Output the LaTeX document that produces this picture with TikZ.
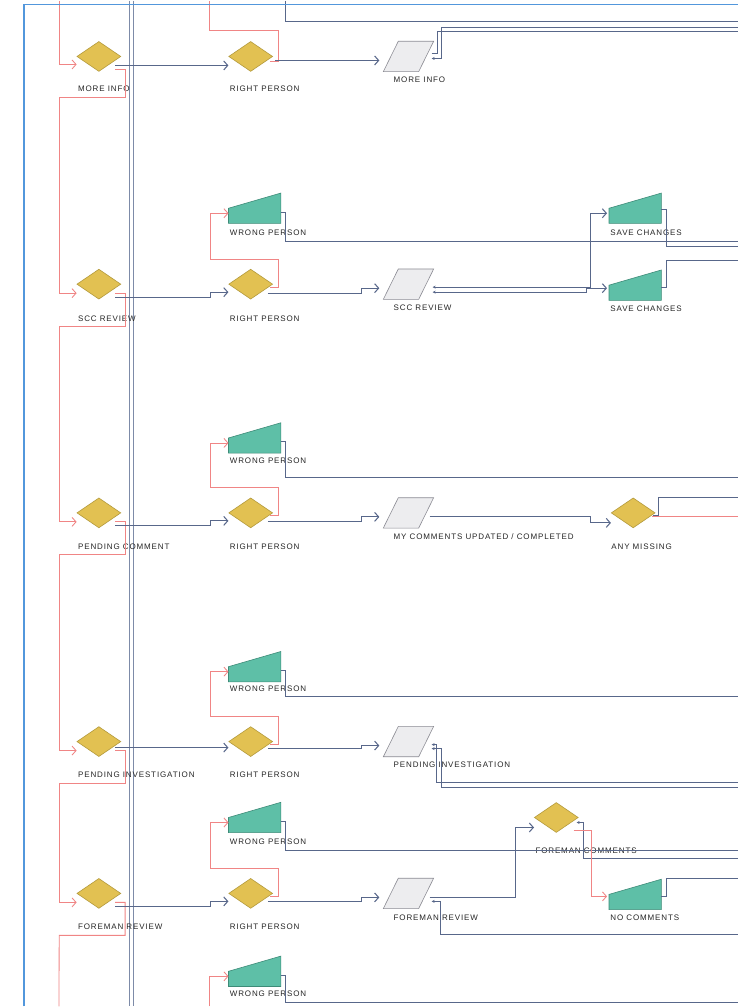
\documentclass[tikz,border=0pt]{standalone}
\usepackage{fontspec}
\setmainfont{Liberation Sans}
\newfontfamily\tagfont[LetterSpace=11]{Liberation Sans}
\usetikzlibrary{arrows.meta,shapes.geometric,positioning,calc}
\definecolor{flowline}{HTML}{58678A}
\definecolor{noline}{HTML}{F08585}
\definecolor{gatefill}{HTML}{E2C152}
\definecolor{gatedraw}{HTML}{B49A3C}
\definecolor{inputfill}{HTML}{5EBFA7}
\definecolor{inputdraw}{HTML}{3E8B78}
\definecolor{datafill}{HTML}{EDEDEF}
\definecolor{datadraw}{HTML}{8C8C94}
\definecolor{pageblue}{HTML}{5297DC}
\definecolor{lanegray}{HTML}{7D8BA8}

\begin{document}
\begin{tikzpicture}[
    x=1pt,y=-1pt,
    gate/.style   = {diamond, draw=gatedraw, fill=gatefill, line width=0.6pt,
                     minimum width=44pt, minimum height=30pt, inner sep=0pt},
    slot/.style   = {rectangle, inner sep=0pt, minimum width=52pt, minimum height=30pt},
    datab/.style  = {rectangle, inner sep=0pt, minimum width=50pt, minimum height=30pt},
    lbl/.style    = {anchor=base west, inner sep=0pt, text=black!85,
                     font=\tagfont\fontsize{8pt}{9pt}\selectfont},
    flow/.style   = {flowline, line width=1.05pt},
    nope/.style   = {noline, line width=0.85pt},
    into/.style   = {-{Straight Barb[length=4pt,width=9pt]}},
    retn/.style   = {{Stealth[length=3pt,width=3pt]}-},
    retninto/.style = {{Stealth[length=3pt,width=3pt]}-{Straight Barb[length=4pt,width=9pt]}},
  ]

  \fill[white] (0,0) rectangle (739,1007);
  \coordinate (rim)     at (739,0);
  \coordinate (redTop)  at (59,0);
  \coordinate (redBot)  at (59,1007);
  \coordinate (redUp)   at (210,0);
  \coordinate (redDown) at (210,1007);
  \coordinate (flowTop) at (286,0);

  % swim lane divider
  \foreach \x in {129.5,133.5}
    \draw[lanegray, line width=1pt] (\x,0) -- (\x,1007);

  % status checks, left column
  \node[gate] (qInfo) at (99,56)  {};
  \node[gate] (qScc)  at (99,284) {};
  \node[gate] (qPend) at (99,513) {};
  \node[gate] (qInv)  at (99,742) {};
  \node[gate] (qFore) at (99,894) {};

  % right person checks
  \node[gate] (rp1) at (251,56)  {};
  \node[gate] (rp2) at (251,284) {};
  \node[gate] (rp3) at (251,513) {};
  \node[gate] (rp4) at (251,742) {};
  \node[gate] (rp5) at (251,894) {};

  % manual inputs
  \node[slot] (wp2)   at (255,208) {};
  \node[slot] (wp3)   at (255,438) {};
  \node[slot] (wp4)   at (255,667) {};
  \node[slot] (wp5)   at (255,818) {};
  \node[slot] (wp6)   at (255,972) {};
  \node[slot] (save1) at (636,208) {};
  \node[slot] (save2) at (636,285) {};
  \node[slot] (noCom) at (636,895) {};

  % data steps
  \node[datab] (dInfo) at (409,56)  {};
  \node[datab] (dScc)  at (409,284) {};
  \node[datab] (dComm) at (409,513) {};
  \node[datab] (dInv)  at (409,742) {};
  \node[datab] (dFore) at (409,894) {};

  \node[gate] (qMiss) at (634,513) {};
  \node[gate] (qFc)   at (557,818) {};

  \foreach \n in {wp2,wp3,wp4,wp5,wp6,save1,save2,noCom}
    \filldraw[draw=inputdraw, fill=inputfill, line width=0.6pt]
      (\n.south west) -- (\n.west) -- (\n.north east) -- (\n.south east) -- cycle;
  \foreach \n in {dInfo,dScc,dComm,dInv,dFore}
    \filldraw[draw=datadraw, fill=datafill, line width=0.6pt]
      (\n.south west) -- ([xshift=15pt]\n.north west) -- (\n.north east)
      -- ([xshift=-15pt]\n.south east) -- cycle;

  % labels
  \node[lbl] (t-qInfo) at (78,91)  {MORE INFO};
  \node[lbl] (t-qScc)  at (78,321) {SCC REVIEW};
  \node[lbl] (t-qPend) at (78,550) {PENDING COMMENT};
  \node[lbl] (t-qInv)  at (78,778) {PENDING INVESTIGATION};
  \node[lbl] (t-qFore) at (78,930) {FOREMAN REVIEW};
  \foreach \i/\y in {1/91,2/321,3/550,4/778,5/930}
    \node[lbl] (t-rp\i) at (230,\y) {RIGHT PERSON};
  \foreach \i/\y in {2/235,3/464,4/692,5/845,6/997}
    \node[lbl] (t-wp\i) at (230,\y) {WRONG PERSON};
  \node[lbl] (t-dInfo) at (394,82)  {MORE INFO};
  \node[lbl] (t-dScc)  at (394,310) {SCC REVIEW};
  \node[lbl] (t-dComm) at (394,540) {MY COMMENTS UPDATED / COMPLETED};
  \node[lbl] (t-dInv)  at (394,768) {PENDING INVESTIGATION};
  \node[lbl] (t-dFore) at (394,921) {FOREMAN REVIEW};
  \node[lbl] (t-save1) at (611,235) {SAVE CHANGES};
  \node[lbl] (t-save2) at (611,311) {SAVE CHANGES};
  \node[lbl] (t-qMiss) at (612,550) {ANY MISSING};
  \node[lbl] (t-qFc)   at (536,854) {FOREMAN COMMENTS};
  \node[lbl] (t-noCom) at (611,921) {NO COMMENTS};

  % "no" chain down the left column
  \draw[nope,into] (redTop) |- ([yshift=-8pt]qInfo.west);
  \draw[nope,into] ([xshift=-6pt,yshift=-13pt]qInfo.east) -- ++(10,0) -- ++(0,28)
    -- ++(-66,0) |- ([yshift=-9pt]qScc.west);
  \foreach \a/\b in {qScc/qPend,qPend/qInv,qInv/qFore}
    \draw[nope,into] ([xshift=-6pt,yshift=-9pt]\a.east) -- ++(10,0) -- ++(0,33)
      -- ++(-66,0) |- ([yshift=-9pt]\b.west);
  \draw[nope] ([xshift=-6pt,yshift=-9pt]qFore.east) -- ++(10,0) -- ++(0,33)
    -- ++(-66,0) -- (redBot);

  % "yes" into right person
  \draw[flow,into] ([xshift=-6pt,yshift=-9pt]qInfo.east) -- ([yshift=-9pt]rp1.west);
  \draw[flow,into] ([xshift=-6pt,yshift=-6pt]qInv.east) -- ([yshift=-6pt]rp4.west);
  \foreach \a/\b in {qScc/rp2,qPend/rp3,qFore/rp5}
    \draw[flow,into] ([xshift=-6pt,yshift=-13pt]\a.east) -- ++(95,0)
      |- ([yshift=-8pt]\b.west);

  % right person -> wrong person loops
  \draw[nope] ([xshift=-3pt,yshift=-5pt]rp1.east) -- ++(8,0) -- ++(0,-31) -| (redUp);
  \foreach \i in {2,3,4,5}
    \draw[nope,into] ([xshift=-3pt,yshift=-3pt]rp\i.east) -- ++(8,0) -- ++(0,-28)
      -- ++(-68,0) |- ([yshift=-5pt]wp\i.west);
  \draw[nope,into] (redDown) |- ([yshift=-5pt]wp6.west);

  % wrong person exits
  \draw[flow] (flowTop) |- (rim |- 0,21);
  \foreach \i/\y in {2/241,3/478,4/697,5/851,6/1003}
    \draw[flow] ([yshift=-4pt]wp\i.east) -- ++(5,0) |- (rim |- 0,\y);

  % right person -> data steps
  \draw[flow,into] ([xshift=2pt,yshift=-4pt]rp1.east) -- ([xshift=-4pt,yshift=-4pt]dInfo.west);
  \foreach \i/\d/\s in {2/dScc/9,3/dComm/9,4/dInv/7,5/dFore/8}
    \draw[flow,into] ([xshift=-5pt,yshift=-\s pt]rp\i.east) -- ++(94,0)
      |- ([xshift=-4pt,yshift=-4pt]\d.west);

  % data steps onwards
  \draw[flow] ([xshift=-2pt,yshift=3pt]dInfo.east) -- ++(6,0) |- (rim |- 0,31);
  \draw[flow,retn] ([xshift=-2pt,yshift=-2pt]dInfo.east) -- ++(10,0) |- (rim |- 0,27);

  \draw[flow,retninto] ([xshift=-1pt,yshift=-3pt]dScc.east) -- ++(158,0)
    |- ([xshift=-2pt,yshift=-5pt]save1.west);
  \draw[flow,retninto] ([xshift=-1pt,yshift=-8pt]dScc.east) -- ++(154,0)
    |- ([xshift=-2pt,yshift=-3pt]save2.west);
  \draw[flow] ([yshift=-1pt]save1.east) -- ++(5,0) |- (rim |- 0,246);
  \draw[flow] ([yshift=-2pt]save2.east) -- ++(5,0) |- (rim |- 0,260);

  \draw[flow,into] ([xshift=-4pt,yshift=-4pt]dComm.east) -- ++(161,0)
    |- ([yshift=-10pt]qMiss.west);
  \draw[nope] ([xshift=-3pt,yshift=-4pt]qMiss.east) -- (rim |- 0,517);
  \draw[flow] ([xshift=-2pt,yshift=-3pt]qMiss.east) -- ++(5,0) |- (rim |- 0,498);

  \draw[flow,retn] ([xshift=-2pt,yshift=-3pt]dInv.east) -- ++(5,0) |- (rim |- 0,783);
  \draw[flow,retn] ([xshift=-2pt,yshift=-7pt]dInv.east) -- ++(10,0) |- (rim |- 0,788);

  \draw[flow,into] ([xshift=-4pt,yshift=-4pt]dFore.east) -- ++(86,0)
    |- ([yshift=-10pt]qFc.west);
  \draw[flow,retn] ([xshift=-2pt,yshift=-8pt]dFore.east) -- ++(9,0) |- (rim |- 0,935);
  \draw[flow,retn] ([xshift=-2pt,yshift=-5pt]qFc.east) -- ++(7,0) |- (rim |- 0,859);
  \draw[nope,into] ([xshift=-5pt,yshift=-13pt]qFc.east) -- ++(18,0)
    |- ([xshift=-2pt,yshift=-2pt]noCom.west);
  \draw[flow] ([yshift=-2pt]noCom.east) -- ++(5,0) |- (rim |- 0,879);

  % page frame
  \draw[pageblue, line width=1.5pt] (24,1007) |- (739,4);
\end{tikzpicture}
\end{document}
